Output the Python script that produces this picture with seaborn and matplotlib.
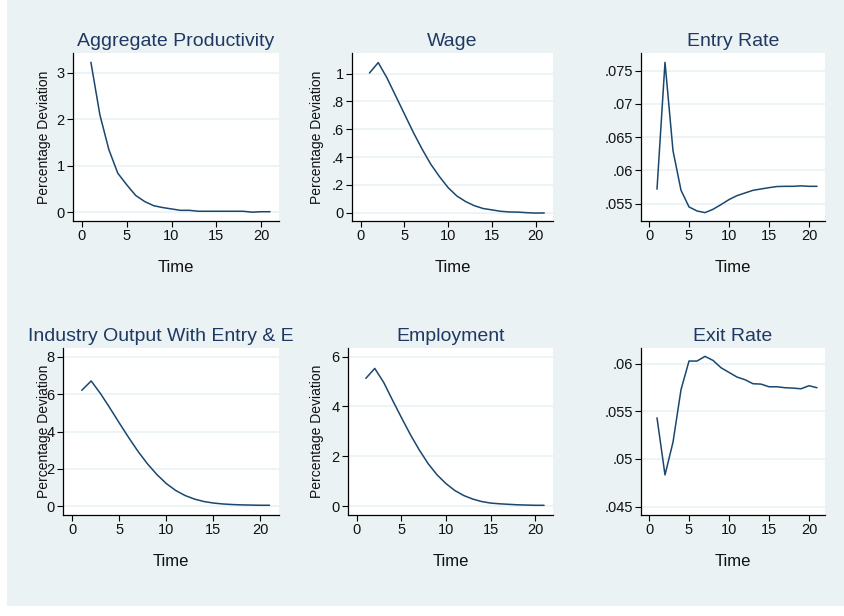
import numpy as np
import pandas as pd
import matplotlib
matplotlib.use("Agg")
import matplotlib.pyplot as plt
from matplotlib.patches import Rectangle
from matplotlib.ticker import FuncFormatter
from matplotlib.transforms import Bbox, TransformedBbox
import seaborn as sns

# impulse responses, periods 1..21
time = list(range(1, 22))
productivity = [3.23, 2.10, 1.35, 0.84, 0.59, 0.36, 0.23, 0.14, 0.10, 0.07, 0.04,
                0.04, 0.02, 0.02, 0.02, 0.02, 0.02, 0.02, 0.0, 0.01, 0.01]
wage = [1.005, 1.08, 0.97, 0.84, 0.71, 0.58, 0.46, 0.35, 0.26, 0.18, 0.12,
        0.08, 0.05, 0.03, 0.02, 0.01, 0.005, 0.004, 0.0, -0.003, -0.002]
entry_rate = [0.05717, 0.07626, 0.06296, 0.05701, 0.0545, 0.05389, 0.05364, 0.05414,
              0.05485, 0.0556, 0.0562, 0.0566, 0.0570, 0.0572, 0.0574, 0.05757,
              0.0576, 0.0576, 0.05767, 0.0576, 0.0576]
industry_output = [6.2, 6.7, 6.02, 5.25, 4.45, 3.67, 2.93, 2.27, 1.70, 1.22, 0.85,
                   0.58, 0.39, 0.26, 0.18, 0.13, 0.10, 0.08, 0.07, 0.06, 0.06]
employment = [5.13, 5.53, 4.97, 4.25, 3.55, 2.87, 2.25, 1.70, 1.25, 0.90, 0.62,
              0.42, 0.28, 0.18, 0.12, 0.09, 0.07, 0.05, 0.04, 0.03, 0.03]
exit_rate = [0.05432, 0.04833, 0.05176, 0.05727, 0.06028, 0.06028, 0.06077, 0.06035,
             0.05958, 0.05909, 0.0586, 0.05832, 0.0579, 0.05786, 0.05758, 0.05758,
             0.05748, 0.05744, 0.05737, 0.05769, 0.05748]

titles = ["Aggregate Productivity", "Wage", "Entry Rate",
          "Industry Output With Entry & Exit", "Employment", "Exit Rate"]
series = [productivity, wage, entry_rate, industry_output, employment, exit_rate]
yticks = [[0, 1, 2, 3], [0, .2, .4, .6, .8, 1], [.055, .06, .065, .07, .075],
          [0, 2, 4, 6, 8], [0, 2, 4, 6], [.045, .05, .055, .06]]
ylims = [(-0.19, 3.43), (-0.06, 1.149), (0.05238, 0.07767),
         (-0.46, 8.46), (-0.36, 6.35), (0.04412, 0.06165)]
has_ylabel = [True, True, False, True, True, False]

# pixel boxes (left, right, top, bottom) of each plot region
boxes = [(73, 279, 53, 221), (352, 553, 53, 221), (641, 825, 53, 221),
         (63, 279, 348, 515), (348, 553, 348, 515), (641, 825, 348, 515)]
# right edge (pixels) of the rotated y label
ylabel_x = [51, 324, None, 51, 324, None]

W, H = 844, 616
bg = "#eaf2f3"
line_col = "#1a476f"
title_col = "#1f3864"

sns.set_style("white")
plt.rcParams["font.family"] = ["Liberation Sans", "DejaVu Sans"]

fig = plt.figure(figsize=(W / 100, H / 100), dpi=100, facecolor="white")
fig.patches.append(Rectangle((7 / W, 10 / H), (W - 7) / W, 606 / H,
                             transform=fig.transFigure, facecolor=bg,
                             edgecolor="none", zorder=-10))


def stata_fmt(v, pos):
    s = ("%.3f" % v).rstrip("0").rstrip(".")
    if s.startswith("0."):
        s = s[1:]
    elif s.startswith("-0."):
        s = "-" + s[2:]
    return s


for i in range(6):
    l, r, t, b = boxes[i]
    ax = fig.add_axes([l / W, (H - b) / H, (r - l) / W, (b - t) / H])
    ax.set_facecolor("white")
    df = pd.DataFrame({"Time": time, "value": series[i]})
    sns.lineplot(data=df, x="Time", y="value", ax=ax, color=line_col, linewidth=1.1)

    ax.set_xlim(-1, 22)
    ax.set_ylim(*ylims[i])
    ax.set_xticks([0, 5, 10, 15, 20])
    ax.set_yticks(yticks[i])
    ax.yaxis.set_major_formatter(FuncFormatter(stata_fmt))
    ax.grid(axis="y", color=bg, linewidth=1.2)
    ax.set_axisbelow(True)
    for s in ["top", "right"]:
        ax.spines[s].set_visible(False)
    for s in ["left", "bottom"]:
        ax.spines[s].set_color("black")
        ax.spines[s].set_linewidth(0.9)
    ax.tick_params(axis="both", direction="out", length=4, width=0.8,
                   color="black", labelsize=10.5, labelcolor="#111111", pad=2,
                   left=True, bottom=True)

    ax.set_xlabel("Time", fontsize=12, color="#111111", labelpad=12)
    if has_ylabel[i]:
        ax.set_ylabel("Percentage Deviation", fontsize=10, color="#111111")
        ax.yaxis.set_label_coords((ylabel_x[i] - l) / (r - l), 0.5)
    else:
        ax.set_ylabel("")

    ttl = ax.set_title(titles[i], fontsize=14, color=title_col, pad=5)
    if i == 3:
        # the long title is cut at the edge of its cell
        clip = TransformedBbox(Bbox([[0, 0], [294 / W, 1]]), fig.transFigure)
        ttl.set_clip_box(clip)
        ttl.set_clip_on(True)

fig.savefig("out.png", dpi=100, facecolor="white")
